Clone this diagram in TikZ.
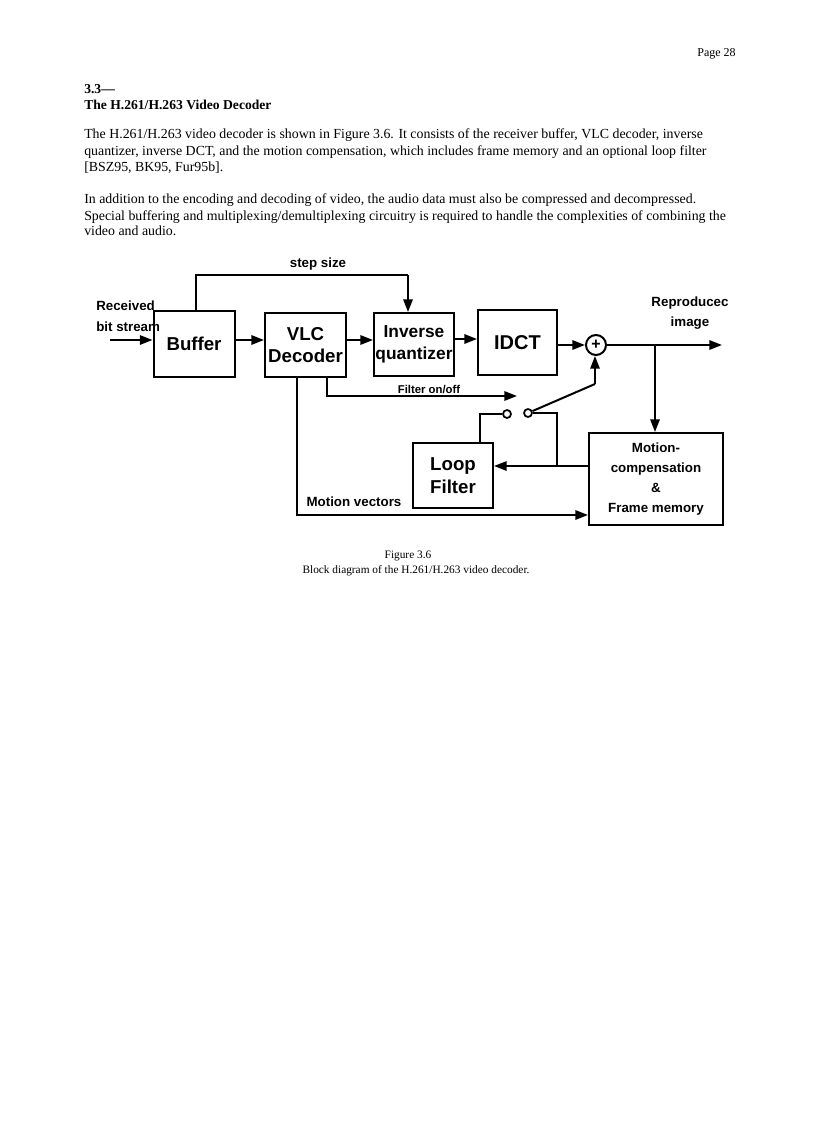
\documentclass[tikz,border=0pt]{standalone}
\usepackage{fontspec}
\setmainfont{Liberation Serif}
\newfontfamily\hv{Liberation Sans}
\usetikzlibrary{arrows.meta}
\begin{document}
\begin{tikzpicture}[x=0.75pt,y=-0.75pt,
  ln/.style={line width=1.5pt},
  arr/.style={line width=1.5pt,-{Triangle[length=9.5pt,width=7pt]}},
  blk/.style={draw,line width=1.5pt,inner sep=0pt,font=\hv\bfseries\fontsize{14}{17}\selectfont,align=center},
  lbl/.style={font=\hv\bfseries\fontsize{10}{12}\selectfont,inner sep=0pt},
  txt/.style={font=\fontsize{10.4}{12}\selectfont,anchor=base west,inner sep=0pt},
  contact/.style={circle,draw,line width=1.3pt,minimum size=6pt,inner sep=0pt}]
\useasboundingbox (0,0) rectangle (816,1123);
% header text
\node[font=\fontsize{9}{11}\selectfont,anchor=base east,inner sep=0pt] (pg) at (736,57) {Page 28};
\node[txt,font=\bfseries\fontsize{10.2}{12}\selectfont] (h1) at (84,94) {3.3—};
\node[txt,font=\bfseries\fontsize{10.2}{12}\selectfont] (h2) at (84,110) {The H.261/H.263 Video Decoder};
\node[txt] (p1) at (84,139) {The H.261/H.263 video decoder is shown in Figure 3.6. It consists of the receiver buffer, VLC decoder, inverse};
\node[txt] (p2) at (84,156) {quantizer, inverse DCT, and the motion compensation, which includes frame memory and an optional loop filter};
\node[txt] (p3) at (84,172) {[BSZ95, BK95, Fur95b].};
\node[txt] (p4) at (84,204) {In addition to the encoding and decoding of video, the audio data must also be compressed and decompressed.};
\node[txt] (p5) at (84,220) {Special buffering and multiplexing/demultiplexing circuitry is required to handle the complexities of combining the};
\node[txt] (p6) at (84,236) {video and audio.};
% blocks
\node[blk,minimum width=60.75pt,minimum height=49.5pt] (buf) at (194,343.5) {Buffer};
\node[blk,minimum width=60.75pt,minimum height=48pt] (vlc) at (305.5,345) {VLC\\Decoder};
\node[blk,minimum width=60pt,minimum height=47.25pt,font=\hv\bfseries\fontsize{13}{17}\selectfont] (inv) at (414,344.5) {Inverse\\quantizer};
\node[blk,minimum width=59.25pt,minimum height=48.75pt,font=\hv\bfseries\fontsize{15}{17}\selectfont] (idct) at (517.5,342.5) {IDCT};
\node[circle,draw,line width=1.5pt,minimum size=15pt,inner sep=0pt,font=\hv\bfseries\fontsize{12}{12}\selectfont] (sum) at (596,345) {\raisebox{-0.6pt}{+}};
\node[blk,minimum width=60pt,minimum height=48.75pt] (loop) at (453,475.5) {Loop\\Filter};
\node[blk,minimum width=100.5pt,minimum height=69pt,font=\hv\bfseries\fontsize{10}{15}\selectfont] (mc) at (656,479) {Motion-\\compensation\\\&\\Frame memory};
% labels
\node[lbl,anchor=west,align=left,font=\hv\bfseries\fontsize{10}{15.5}\selectfont] (rx) at (96,316) {Received\\bit stream};
\node[lbl,align=center,font=\hv\bfseries\fontsize{10}{15}\selectfont] (rp) at (690,313) {Reproducec\\image};
\node[lbl] (ss) at (318,264) {step size};
\node[lbl,font=\hv\bfseries\fontsize{8.5}{10}\selectfont] (fo) at (429,390) {Filter on/off};
\node[lbl] (mv) at (354,502) {Motion vectors};
% switch contacts
\node[contact] (sw1) at (507,414) {};
\node[contact] (sw2) at (528,413) {};
% coordinates
\coordinate (in1) at (110,340);
\coordinate (r1) at (0,340);
\coordinate (r2) at (0,339);
\coordinate (out) at (722,345);
\coordinate (br) at (655,345);
\coordinate (s1) at (196,275);
\coordinate (s2) at (408,275);
\coordinate (mv1) at (297,515);
\coordinate (f1) at (327,396);
\coordinate (f2) at (517,396);
\coordinate (k1) at (595,384);
\coordinate (l1) at (480,414);
\coordinate (j1) at (557,413);
\coordinate (j2) at (557,466);
% connectors
\draw[arr] (in1) -- (in1 -| buf.west);
\draw[arr] (buf.east |- r1) -- (vlc.west |- r1);
\draw[arr] (vlc.east |- r1) -- (inv.west |- r1);
\draw[arr] (inv.east |- r2) -- (idct.west |- r2);
\draw[arr] (idct.east |- sum) -- (sum.west);
\draw[arr] (sum.east) -- (out);
\draw[arr] (br) -- (br |- mc.north);
\draw[ln] (buf.north -| s1) -- (s1) -- (s2);
\draw[arr] (s2) -- (s2 |- inv.north);
\draw[arr] (vlc.south -| mv1) -- (mv1) -- (mv1 -| mc.west);
\draw[arr] (vlc.south -| f1) -- (f1) -- (f2);
\draw[ln] (sw2) -- (k1);
\draw[arr] (k1) -- (k1 |- sum.south);
\draw[line width=1.2pt] (sw1.west) -- (l1) -- (l1 |- loop.north);
\draw[line width=1.2pt] (sw2.east) -- (j1) -- (j2);
\draw[arr] (mc.west |- j2) -- (loop.east |- j2);
% caption
\node[font=\fontsize{8.5}{10}\selectfont,inner sep=0pt] (cap1) at (408,556) {Figure 3.6};
\node[font=\fontsize{8.5}{10}\selectfont,inner sep=0pt] (cap2) at (416,571) {Block diagram of the H.261/H.263 video decoder.};
\end{tikzpicture}
\end{document}
